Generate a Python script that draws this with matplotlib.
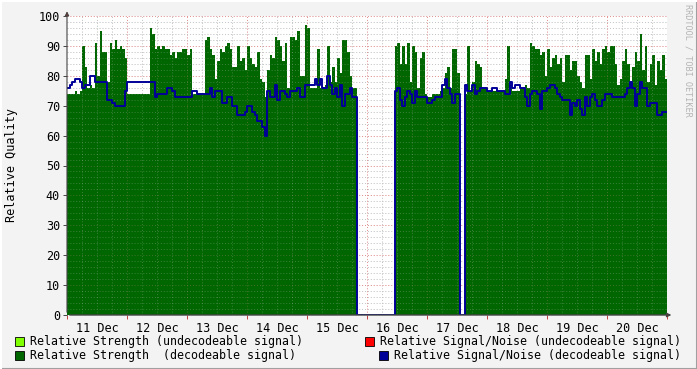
import matplotlib.pyplot as plt
import numpy as np
from matplotlib.patches import Rectangle
from matplotlib.lines import Line2D

# hourly values, 11 Dec 00:00 .. 20 Dec 23:00 (0 = no data)
day_labels = ['11 Dec', '12 Dec', '13 Dec', '14 Dec', '15 Dec',
              '16 Dec', '17 Dec', '18 Dec', '19 Dec', '20 Dec']

strength_11 = [74, 74, 74, 75, 74, 75, 90, 83, 76, 77, 76, 91, 80, 95, 88, 88, 78, 91, 89, 92, 89, 90, 89, 86]
strength_12 = [74, 74, 74, 74, 74, 74, 74, 74, 74, 96, 94, 89, 90, 89, 90, 89, 89, 87, 88, 86, 88, 88, 89, 89]
strength_13 = [87, 89, 74, 74, 74, 74, 74, 92, 93, 89, 87, 79, 85, 89, 88, 90, 91, 89, 83, 83, 90, 85, 86, 82]
strength_14 = [90, 86, 84, 83, 88, 79, 78, 73, 82, 87, 86, 93, 92, 90, 85, 91, 76, 93, 93, 92, 95, 80, 80, 97]
strength_15 = [96, 76, 76, 76, 89, 76, 76, 77, 90, 78, 83, 78, 86, 81, 92, 92, 88, 80, 76, 76, 0, 0, 0, 0]
strength_16 = [0, 0, 0, 0, 0, 0, 0, 0, 0, 0, 0, 90, 91, 84, 90, 84, 91, 78, 90, 88, 76, 86, 88, 74]
strength_17 = [73, 73, 74, 74, 74, 75, 76, 81, 83, 76, 89, 89, 81, 0, 0, 74, 90, 75, 78, 85, 84, 83, 76, 76]
strength_18 = [75, 75, 75, 75, 75, 75, 75, 79, 90, 77, 75, 75, 75, 76, 76, 77, 76, 91, 90, 89, 89, 87, 88, 80]
strength_19 = [89, 83, 86, 87, 84, 86, 78, 87, 87, 82, 85, 85, 80, 78, 76, 87, 87, 79, 89, 85, 88, 84, 89, 90]
strength_20 = [88, 90, 90, 84, 77, 79, 85, 89, 84, 78, 83, 88, 85, 94, 82, 90, 78, 84, 87, 77, 85, 82, 87, 79]

snr_11 = [76, 77, 78, 79, 79, 78, 76, 77, 77, 80, 80, 78, 78, 78, 78, 78, 72, 72, 71, 70, 70, 70, 70, 75]
snr_12 = [78, 78, 78, 78, 78, 78, 78, 78, 78, 78, 78, 73, 74, 74, 74, 74, 76, 76, 75, 73, 73, 73, 73, 73]
snr_13 = [73, 73, 75, 75, 74, 74, 74, 74, 74, 76, 73, 75, 75, 75, 71, 71, 73, 73, 70, 70, 67, 67, 67, 68]
snr_14 = [70, 70, 68, 67, 65, 65, 63, 60, 75, 73, 73, 77, 72, 75, 75, 74, 73, 75, 75, 75, 76, 73, 73, 77]
snr_15 = [77, 77, 77, 79, 77, 79, 76, 76, 80, 77, 74, 76, 73, 77, 70, 74, 74, 76, 73, 73, 0, 0, 0, 0]
snr_16 = [0, 0, 0, 0, 0, 0, 0, 0, 0, 0, 0, 75, 76, 72, 70, 73, 75, 74, 71, 75, 73, 73, 73, 73]
snr_17 = [71, 71, 72, 73, 73, 73, 77, 79, 76, 74, 71, 74, 74, 0, 0, 77, 75, 75, 77, 74, 75, 76, 76, 76]
snr_18 = [75, 75, 76, 76, 75, 75, 75, 74, 74, 78, 76, 77, 77, 76, 76, 73, 70, 74, 75, 75, 74, 69, 75, 75]
snr_19 = [76, 77, 77, 76, 74, 73, 72, 72, 72, 67, 71, 70, 72, 69, 67, 73, 70, 73, 74, 72, 70, 70, 72, 74]
snr_20 = [74, 74, 73, 73, 73, 73, 73, 74, 76, 78, 76, 70, 74, 78, 76, 76, 70, 71, 71, 71, 67, 67, 68, 68]

strength = np.array(strength_11 + strength_12 + strength_13 + strength_14 + strength_15 +
                    strength_16 + strength_17 + strength_18 + strength_19 + strength_20, dtype=float)
snr = np.array(snr_11 + snr_12 + snr_13 + snr_14 + snr_15 +
               snr_16 + snr_17 + snr_18 + snr_19 + snr_20, dtype=float)

hours = np.arange(len(strength) + 1)
strength_s = np.append(strength, strength[-1])
snr_s = np.append(snr, snr[-1])

mono = 'DejaVu Sans Mono'
fs = 8.45
fs_legend = 8.35

fig = plt.figure(figsize=(6.97, 3.69), dpi=100)
fig.patch.set_facecolor('#F3F3F3')
ax = fig.add_axes([67/697, 1-315/369, 600/697, 299/369])
ax.set_facecolor('white')

ax.fill_between(hours, 0, strength_s, step='post', color='#006600', lw=0, zorder=1)
ax.step(hours, snr_s, where='post', color='#000099', lw=1.4, zorder=4)

# grid: normal under the area, faint on top of it
dots = (0, (1, 2))
for z, a in [(0.5, 1.0), (2, 0.3)]:
    for h in range(6, 240, 6):
        if h % 24:
            ax.axvline(h, color='#C4C4C4', lw=0.7, ls=dots, alpha=a, zorder=z)
    for h in range(24, 241, 24):
        ax.axvline(h, color='#E09090', lw=0.7, ls=dots, alpha=a, zorder=z)
    for v in range(2, 101, 2):
        if v % 10:
            ax.axhline(v, color='#C4C4C4', lw=0.7, ls=dots, alpha=a, zorder=z)
        else:
            ax.axhline(v, color='#E09090', lw=0.7, ls=dots, alpha=a, zorder=z)

ax.set_xlim(0, 240)
ax.set_ylim(0, 100)
for s in ax.spines.values():
    s.set_visible(False)

ax.set_xticks([12 + 24 * i for i in range(10)])
ax.set_xticklabels(day_labels, fontfamily=mono, fontsize=fs)
ax.set_xticks(range(0, 241, 24), minor=True)
ax.tick_params(axis='x', which='major', length=0, pad=5)
ax.tick_params(axis='x', which='minor', length=3, color='#C04040', width=0.7)
ax.set_yticks(range(0, 101, 10))
ax.set_yticklabels([str(v) for v in range(0, 101, 10)], fontfamily=mono, fontsize=fs)
ax.tick_params(axis='y', length=3, color='#444444', width=0.7, pad=2)

# axes with arrows
ax.annotate('', xy=(0, 1.025), xytext=(0, 0), xycoords='axes fraction',
            arrowprops=dict(arrowstyle='-|>', color='#444444', lw=0.8,
                            mutation_scale=6, fc='#A02020', ec='#444444'), zorder=6)
ax.annotate('', xy=(1.012, 0), xytext=(0, 0), xycoords='axes fraction',
            arrowprops=dict(arrowstyle='-|>', color='#444444', lw=1.0,
                            mutation_scale=6, fc='#A02020', ec='#444444'), zorder=6)

fig.text(12/697, 1-165/369, 'Relative Quality', rotation=90, ha='center', va='center',
         fontfamily=mono, fontsize=fs)
fig.text(688/697, 1-4/369, 'RRDTOOL / TOBI OETIKER', rotation=270, ha='center', va='top',
         fontfamily=mono, fontsize=6.1, color='#B4B4B4')

# legend
legend_items = [
    ('Relative Strength (undecodeable signal)', '#7FFF00', 15, 341),
    ('Relative Strength  (decodeable signal)', '#006600', 15, 355),
    ('Relative Signal/Noise (undecodeable signal)', '#FF0000', 365, 341),
    ('Relative Signal/Noise (decodeable signal)', '#000099', 379, 355),
]
for label, col, x, y in legend_items:
    fig.add_artist(Rectangle((x/697, 1-(y+5)/369), 9/697, 9/369, transform=fig.transFigure,
                             fc=col, ec='black', lw=0.6))
    fig.text((x+15)/697, 1-y/369, label, ha='left', va='center', fontfamily=mono, fontsize=fs_legend)

# 3d frame
fig.add_artist(Line2D([0, 1], [0.5/369, 0.5/369], transform=fig.transFigure, color='#A0A0A0', lw=1.5))
fig.add_artist(Line2D([1-0.5/697, 1-0.5/697], [0, 1], transform=fig.transFigure, color='#A0A0A0', lw=1.5))
fig.add_artist(Line2D([0, 1], [1-0.5/369, 1-0.5/369], transform=fig.transFigure, color='white', lw=1.5))
fig.add_artist(Line2D([0.5/697, 0.5/697], [0, 1], transform=fig.transFigure, color='white', lw=1.5))

fig.savefig('out.png', dpi=100, facecolor=fig.get_facecolor())
